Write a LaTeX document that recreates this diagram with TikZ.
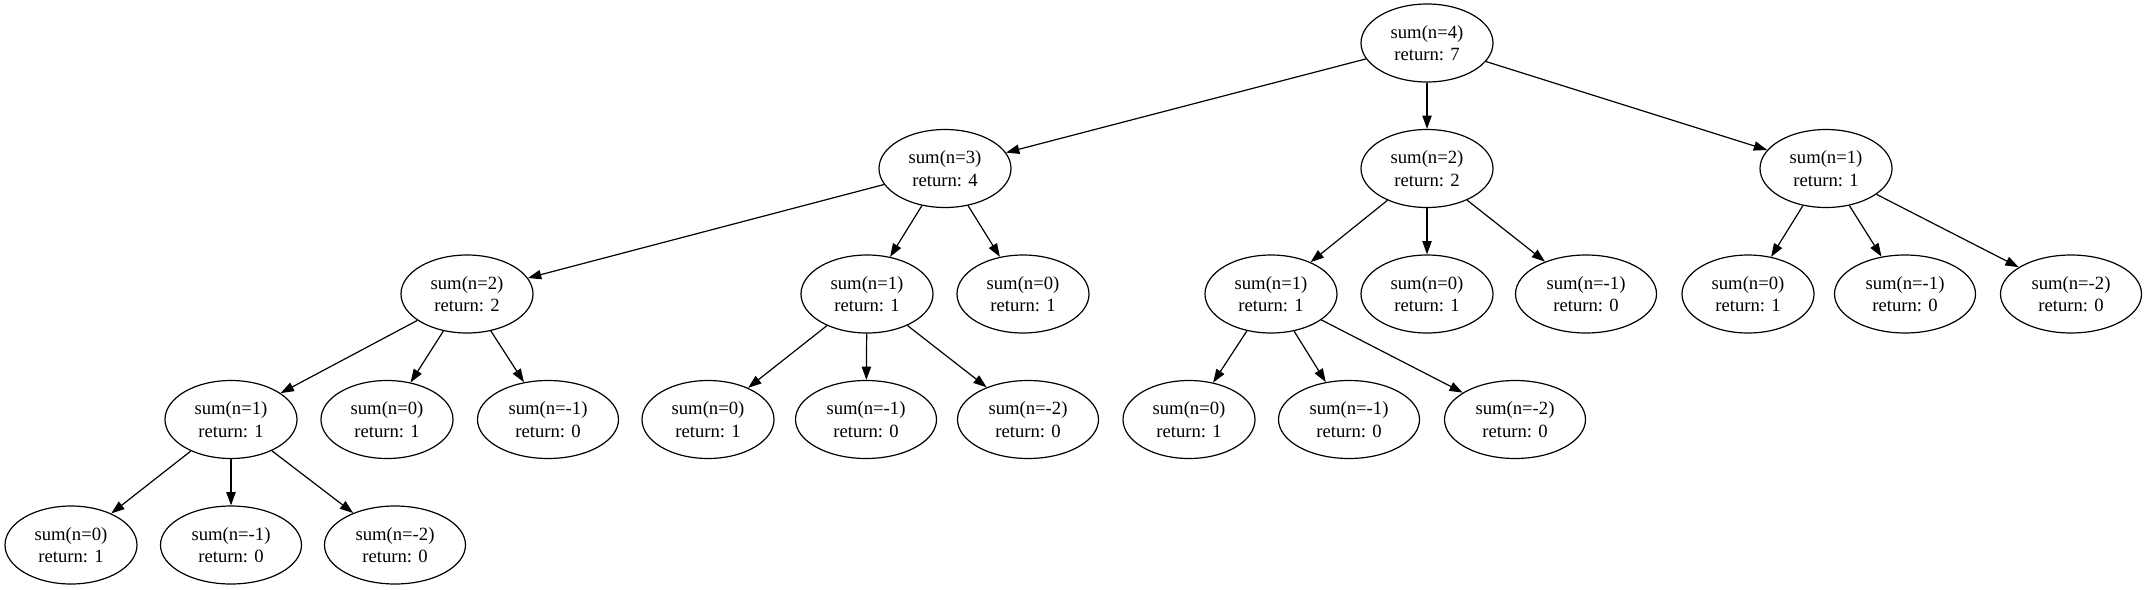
\documentclass[tikz,border=0pt]{standalone}
\usepackage{fontspec}
\setmainfont{Liberation Serif}
\usetikzlibrary{shapes.geometric,arrows.meta}

\begin{document}
\begin{tikzpicture}[
	x=0.75pt, y=-0.75pt,
	call/.style={draw, ellipse, line width=0.9pt, inner sep=0pt,
		minimum width=99pt, minimum height=58.5pt, align=center,
		font=\fontsize{14pt}{16.8pt}\selectfont},
	negcall/.style={call, minimum width=105.75pt},
	callarrow/.style={line width=0.9pt, -{Triangle[length=10pt,width=7pt]}}
	]
	\useasboundingbox (0,0) rectangle (2147,589);
	% level 0
	\node[call] (s4) at (1427,43) {sum(n=4)\\return: 7};
	% level 1
	\node[call] (s3) at (945,168.5) {sum(n=3)\\return: 4};
	\node[call] (s2a) at (1427,168.5) {sum(n=2)\\return: 2};
	\node[call] (s1a) at (1826,168.5) {sum(n=1)\\return: 1};
	% level 2
	\node[call] (s2b) at (467,294) {sum(n=2)\\return: 2};
	\node[call] (s1b) at (867,294) {sum(n=1)\\return: 1};
	\node[call] (s0b) at (1023,294) {sum(n=0)\\return: 1};
	\node[call] (s1c) at (1271,294) {sum(n=1)\\return: 1};
	\node[call] (s0c) at (1427,294) {sum(n=0)\\return: 1};
	\node[negcall] (m1c) at (1586,294) {sum(n=-1)\\return: 0};
	\node[call] (s0d) at (1748,294) {sum(n=0)\\return: 1};
	\node[negcall] (m1d) at (1905,294) {sum(n=-1)\\return: 0};
	\node[negcall] (m2d) at (2071,294) {sum(n=-2)\\return: 0};
	% level 3
	\node[call] (s1e) at (231,419.5) {sum(n=1)\\return: 1};
	\node[call] (s0e) at (387,419.5) {sum(n=0)\\return: 1};
	\node[negcall] (m1e) at (548,419.5) {sum(n=-1)\\return: 0};
	\node[call] (s0f) at (708,419.5) {sum(n=0)\\return: 1};
	\node[negcall] (m1f) at (866,419.5) {sum(n=-1)\\return: 0};
	\node[negcall] (m2f) at (1028,419.5) {sum(n=-2)\\return: 0};
	\node[call] (s0g) at (1189,419.5) {sum(n=0)\\return: 1};
	\node[negcall] (m1g) at (1349,419.5) {sum(n=-1)\\return: 0};
	\node[negcall] (m2g) at (1515,419.5) {sum(n=-2)\\return: 0};
	% level 4
	\node[call] (s0h) at (71,545) {sum(n=0)\\return: 1};
	\node[negcall] (m1h) at (231,545) {sum(n=-1)\\return: 0};
	\node[negcall] (m2h) at (395,545) {sum(n=-2)\\return: 0};
	% calls
	\draw[callarrow] (s4) -- (s3);
	\draw[callarrow] (s4) -- (s2a);
	\draw[callarrow] (s4) -- (s1a);
	\draw[callarrow] (s3) -- (s2b);
	\draw[callarrow] (s3) -- (s1b);
	\draw[callarrow] (s3) -- (s0b);
	\draw[callarrow] (s2a) -- (s1c);
	\draw[callarrow] (s2a) -- (s0c);
	\draw[callarrow] (s2a) -- (m1c);
	\draw[callarrow] (s1a) -- (s0d);
	\draw[callarrow] (s1a) -- (m1d);
	\draw[callarrow] (s1a) -- (m2d);
	\draw[callarrow] (s2b) -- (s1e);
	\draw[callarrow] (s2b) -- (s0e);
	\draw[callarrow] (s2b) -- (m1e);
	\draw[callarrow] (s1b) -- (s0f);
	\draw[callarrow] (s1b) -- (m1f);
	\draw[callarrow] (s1b) -- (m2f);
	\draw[callarrow] (s1c) -- (s0g);
	\draw[callarrow] (s1c) -- (m1g);
	\draw[callarrow] (s1c) -- (m2g);
	\draw[callarrow] (s1e) -- (s0h);
	\draw[callarrow] (s1e) -- (m1h);
	\draw[callarrow] (s1e) -- (m2h);
\end{tikzpicture}
\end{document}
